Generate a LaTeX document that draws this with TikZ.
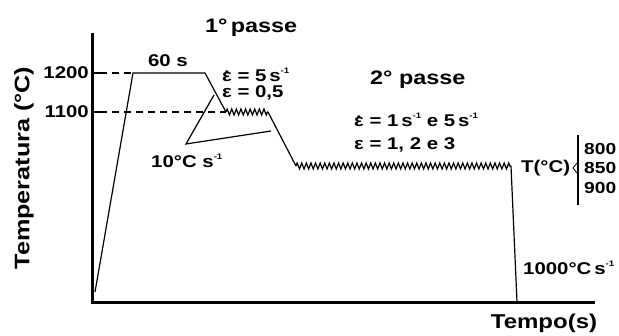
\documentclass[tikz,border=0pt]{standalone}
\usepackage{fontspec}
\setmainfont{Liberation Sans}[FakeStretch=1.2]
\usetikzlibrary{decorations.pathmorphing}
\newcommand\epsdot{\ooalign{ε\cr\hidewidth\raisebox{0.5em}{.}\hidewidth\cr}}
\newcommand\minusone{\raisebox{0.5em}{\fontsize{8}{8}\selectfont -1}}
\begin{document}
\begin{tikzpicture}[x=1pt,y=-1pt,
  lbl/.style={inner sep=0pt,font=\fontsize{17}{17}\selectfont\bfseries},
  num/.style={inner sep=0pt,font=\fontsize{16}{16}\selectfont\bfseries},
  big/.style={inner sep=0pt,font=\fontsize{19.5}{19.5}\selectfont\bfseries},
  axisline/.style={line width=3pt,line join=miter},
  curve/.style={line width=1.2pt,line join=miter},
  zz/.style={decorate,decoration={zigzag,segment length=4.6pt,amplitude=3pt}},
  dashline/.style={line width=1.1pt,dash pattern=on 7pt off 5pt}]
\useasboundingbox (0,0) rectangle (619,336);
% axes
\coordinate (ytop) at (92,33);
\coordinate (orig) at (92,303);
\coordinate (xend) at (595,303);
\draw[axisline] (ytop) -- (orig) -- (xend);
% ticks and dashed guides
\coordinate (t1a) at (92,73); \coordinate (t1b) at (100,73);
\coordinate (t2a) at (92,112); \coordinate (t2b) at (100,112);
\draw[line width=2pt] (t1a) -- (t1b);
\draw[line width=2pt] (t2a) -- (t2b);
% curve points
\coordinate (s0) at (95,292);
\coordinate (s1) at (133,73);
\coordinate (s2) at (205,73);
\coordinate (s3) at (226,112);
\coordinate (s4) at (268,112);
\coordinate (s5) at (296,166);
\coordinate (s6) at (511,166);
\coordinate (s7) at (517,302);
\draw[dashline] (t1b) -- (s1);
\draw[dashline] (t2b) -- (s3);
\draw[curve] (s0) -- (s1) -- (s2) -- (s3);
\draw[curve,zz] (s3) -- (s4);
\draw[curve] (s4) -- (s5);
\draw[curve,zz] (s5) -- (s6);
\draw[curve] (s6) -- (s7);
% rate annotation
\coordinate (v) at (186,144);
\coordinate (va) at (214,95);
\coordinate (vb) at (271,131);
\draw[curve] (va) -- (v) -- (vb);
% labels
\node[big,rotate=90,font=\fontsize{21}{21}\selectfont\bfseries] (ylab) at (24,168) {Temperatura (°C)};
\node[lbl,anchor=east] (l1200) at (89,73) {1200};
\node[lbl,anchor=east] (l1100) at (89,112) {1100};
\node[lbl,anchor=base] (l60) at (168,67) {60 s};
\node[big,anchor=base west] (p1) at (205,33) {1°\,passe};
\node[lbl,anchor=base west] (e1) at (222,82) {\epsdot\ = 5\,s\minusone};
\node[lbl,anchor=base west] (e2) at (222,98) {ε = 0,5};
\node[big,anchor=base west] (p2) at (370,85) {2° passe};
\node[lbl,anchor=base west] (e3) at (354,127) {\epsdot\ = 1\,s\minusone\ e 5\,s\minusone};
\node[lbl,anchor=base west] (e4) at (354,150) {ε = 1, 2 e 3};
\node[lbl,anchor=base west] (r1) at (151,168) {10°C s\minusone};
\node[lbl,anchor=base west] (r2) at (523,275) {1000°C\,s\minusone};
\node[lbl,anchor=west] (tc) at (521,168) {T(°C)};
\node[num,anchor=west] (n800) at (584,149) {800};
\node[num,anchor=west] (n850) at (584,168) {850};
\node[num,anchor=west] (n900) at (584,188) {900};
\coordinate (b1) at (577,163); \coordinate (b2) at (573,168); \coordinate (b3) at (577,173);
\draw[line width=0.8pt] (b1) -- (b2) -- (b3);
\coordinate (bar1) at (578,135); \coordinate (bar2) at (578,205);
\draw[line width=2pt] (bar1) -- (bar2);
\node[big,anchor=base,font=\fontsize{20}{20}\selectfont\bfseries] (tempo) at (544,329) {Tempo(s)};
\end{tikzpicture}
\end{document}
